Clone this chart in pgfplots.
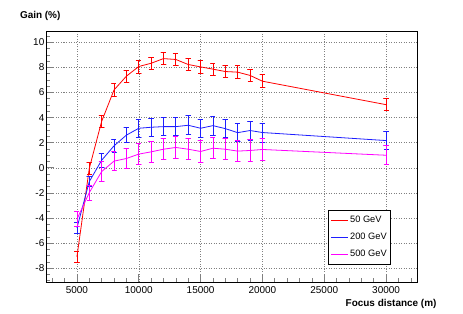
\documentclass[border=0pt]{standalone}
\usepackage{fontspec}
\setmainfont{Liberation Sans}
\usepackage{pgfplots}
\pgfplotsset{compat=1.18}
\definecolor{rred}{RGB}{255,0,0}
\definecolor{rblue}{RGB}{30,30,255}
\definecolor{rmag}{RGB}{255,0,255}
\pgfplotsset{
  rootline/.style={color=#1, mark=none, line width=0.8bp},
  rootbar/.style={color=#1, mark=none, line width=0.8bp, line join=round, forget plot},
}
\begin{document}
\begin{tikzpicture}
\path[use as bounding box] (0bp,0bp) rectangle (463bp,314bp);
\begin{axis}[
  at={(46bp,32bp)}, anchor=south west,
  scale only axis, width=371bp, height=251bp,
  xmin=2500, xmax=32500, ymin=-9.1, ymax=10.9,
  unbounded coords=jump,
  xtick={5000,10000,...,30000},
  minor xtick={3000,4000,...,32000},
  ytick={-8,-6,...,10},
  minor ytick={-9,-8.5,...,10.5},
  tick align=inside, major tick length=8bp, minor tick length=4bp,
  xtick pos=left, ytick pos=left,
  scaled x ticks=false,
  /pgf/number format/assume math mode=true,
  /pgf/number format/1000 sep={},
  tick label style={font=\fontsize{10}{12}\selectfont},
  xticklabel style={inner sep=0pt, yshift=-4bp},
  yticklabel style={inner sep=0pt, xshift=-1.5bp},
  xmajorgrids, ymajorgrids,
  grid style={gray, line width=0.5bp, dash pattern=on 1bp off 1.5bp},
  major tick style={line width=0.6bp},
  minor tick style={line width=0.6bp},
  axis line style={line width=0.9bp},
  xlabel={\bfseries Focus distance (m)},
  ylabel={\bfseries Gain (\%)},
  every axis x label/.style={at={(rel axis cs:1,0)}, anchor=base east, xshift=23bp, yshift=-24bp, font=\fontsize{10}{12}\selectfont},
  every axis y label/.style={at={(rel axis cs:0,1)}, anchor=base west, xshift=-29.5bp, yshift=12bp, font=\fontsize{10}{12}\selectfont},
  legend style={at={(0.760,0.0705)}, anchor=south west, draw=black, line width=0.8bp,
    font=\fontsize{9.3}{11}\selectfont, row sep=5bp, inner xsep=2bp, inner ysep=4bp,
    /tikz/every even column/.append style={column sep=1bp}},
  legend cell align=left,
]
% ---- 50 GeV ----
\addplot[rootline=rred] coordinates {
 (5000,-7.1) (6000,-0.05) (7000,3.7) (8000,6.2) (9000,7.3) (10000,8.07)
 (11000,8.33) (12000,8.7) (13000,8.63) (14000,8.23) (15000,8.04) (16000,7.86)
 (17000,7.67) (18000,7.62) (19000,7.36) (20000,6.9) (30000,5.03)
};
\addlegendentry{50 GeV}
\addplot[rootbar=rred] coordinates {
 (4800,-7.56) (5200,-7.56) (5000,-7.56) (5000,-6.64) (4800,-6.64) (5200,-6.64) (nan,nan)
 (5800,-0.50) (6200,-0.50) (6000,-0.50) (6000,0.40) (5800,0.40) (6200,0.40) (nan,nan)
 (6800,3.21) (7200,3.21) (7000,3.21) (7000,4.19) (6800,4.19) (7200,4.19) (nan,nan)
 (7800,5.70) (8200,5.70) (8000,5.70) (8000,6.70) (7800,6.70) (8200,6.70) (nan,nan)
 (8800,6.80) (9200,6.80) (9000,6.80) (9000,7.80) (8800,7.80) (9200,7.80) (nan,nan)
 (9800,7.55) (10200,7.55) (10000,7.55) (10000,8.59) (9800,8.59) (10200,8.59) (nan,nan)
 (10800,7.83) (11200,7.83) (11000,7.83) (11000,8.83) (10800,8.83) (11200,8.83) (nan,nan)
 (11800,8.24) (12200,8.24) (12000,8.24) (12000,9.16) (11800,9.16) (12200,9.16) (nan,nan)
 (12800,8.15) (13200,8.15) (13000,8.15) (13000,9.11) (12800,9.11) (13200,9.11) (nan,nan)
 (13800,7.73) (14200,7.73) (14000,7.73) (14000,8.73) (13800,8.73) (14200,8.73) (nan,nan)
 (14800,7.54) (15200,7.54) (15000,7.54) (15000,8.54) (14800,8.54) (15200,8.54) (nan,nan)
 (15800,7.38) (16200,7.38) (16000,7.38) (16000,8.34) (15800,8.34) (16200,8.34) (nan,nan)
 (16800,7.19) (17200,7.19) (17000,7.19) (17000,8.15) (16800,8.15) (17200,8.15) (nan,nan)
 (17800,7.12) (18200,7.12) (18000,7.12) (18000,8.12) (17800,8.12) (18200,8.12) (nan,nan)
 (18800,6.86) (19200,6.86) (19000,6.86) (19000,7.86) (18800,7.86) (19200,7.86) (nan,nan)
 (19800,6.38) (20200,6.38) (20000,6.38) (20000,7.42) (19800,7.42) (20200,7.42) (nan,nan)
 (29800,4.54) (30200,4.54) (30000,4.54) (30000,5.52) (29800,5.52) (30200,5.52)
};
% ---- 200 GeV ----
\addplot[rootline=rblue] coordinates {
 (5000,-4.8) (6000,-1.1) (7000,0.6) (8000,1.75) (9000,2.6) (10000,3.15)
 (11000,3.23) (12000,3.28) (13000,3.28) (14000,3.39) (15000,3.15) (16000,3.36)
 (17000,3.12) (18000,2.8) (19000,2.97) (20000,2.81) (30000,2.17)
};
\addlegendentry{200 GeV}
\addplot[rootbar=rblue] coordinates {
 (4800,-5.25) (5200,-5.25) (5000,-5.25) (5000,-4.35) (4800,-4.35) (5200,-4.35) (nan,nan)
 (5800,-1.50) (6200,-1.50) (6000,-1.50) (6000,-0.70) (5800,-0.70) (6200,-0.70) (nan,nan)
 (6800,0.07) (7200,0.07) (7000,0.07) (7000,1.13) (6800,1.13) (7200,1.13) (nan,nan)
 (7800,1.20) (8200,1.20) (8000,1.20) (8000,2.30) (7800,2.30) (8200,2.30) (nan,nan)
 (8800,2.00) (9200,2.00) (9000,2.00) (9000,3.20) (8800,3.20) (9200,3.20) (nan,nan)
 (9800,2.46) (10200,2.46) (10000,2.46) (10000,3.84) (9800,3.84) (10200,3.84) (nan,nan)
 (10800,2.53) (11200,2.53) (11000,2.53) (11000,3.93) (10800,3.93) (11200,3.93) (nan,nan)
 (11800,2.58) (12200,2.58) (12000,2.58) (12000,3.98) (11800,3.98) (12200,3.98) (nan,nan)
 (12800,2.58) (13200,2.58) (13000,2.58) (13000,3.98) (12800,3.98) (13200,3.98) (nan,nan)
 (13800,2.64) (14200,2.64) (14000,2.64) (14000,4.14) (13800,4.14) (14200,4.14) (nan,nan)
 (14800,2.45) (15200,2.45) (15000,2.45) (15000,3.85) (14800,3.85) (15200,3.85) (nan,nan)
 (15800,2.61) (16200,2.61) (16000,2.61) (16000,4.11) (15800,4.11) (16200,4.11) (nan,nan)
 (16800,2.42) (17200,2.42) (17000,2.42) (17000,3.82) (16800,3.82) (17200,3.82) (nan,nan)
 (17800,2.10) (18200,2.10) (18000,2.10) (18000,3.50) (17800,3.50) (18200,3.50) (nan,nan)
 (18800,2.22) (19200,2.22) (19000,2.22) (19000,3.72) (18800,3.72) (19200,3.72) (nan,nan)
 (19800,2.06) (20200,2.06) (20000,2.06) (20000,3.56) (19800,3.56) (20200,3.56) (nan,nan)
 (29800,1.47) (30200,1.47) (30000,1.47) (30000,2.87) (29800,2.87) (30200,2.87)
};
% ---- 500 GeV ----
\addplot[rootline=rmag] coordinates {
 (5000,-4.1) (6000,-1.98) (7000,-0.3) (8000,0.53) (9000,0.74) (10000,1.09)
 (11000,1.27) (12000,1.48) (13000,1.62) (14000,1.48) (15000,1.3) (16000,1.56)
 (17000,1.48) (18000,1.33) (19000,1.38) (20000,1.46) (30000,1.0)
};
\addlegendentry{500 GeV}
\addplot[rootbar=rmag] coordinates {
 (4800,-4.70) (5200,-4.70) (5000,-4.70) (5000,-3.50) (4800,-3.50) (5200,-3.50) (nan,nan)
 (5800,-2.58) (6200,-2.58) (6000,-2.58) (6000,-1.38) (5800,-1.38) (6200,-1.38) (nan,nan)
 (6800,-1.10) (7200,-1.10) (7000,-1.10) (7000,0.50) (6800,0.50) (7200,0.50) (nan,nan)
 (7800,-0.22) (8200,-0.22) (8000,-0.22) (8000,1.28) (7800,1.28) (8200,1.28) (nan,nan)
 (8800,-0.06) (9200,-0.06) (9000,-0.06) (9000,1.54) (8800,1.54) (9200,1.54) (nan,nan)
 (9800,0.24) (10200,0.24) (10000,0.24) (10000,1.94) (9800,1.94) (10200,1.94) (nan,nan)
 (10800,0.42) (11200,0.42) (11000,0.42) (11000,2.12) (10800,2.12) (11200,2.12) (nan,nan)
 (11800,0.63) (12200,0.63) (12000,0.63) (12000,2.33) (11800,2.33) (12200,2.33) (nan,nan)
 (12800,0.77) (13200,0.77) (13000,0.77) (13000,2.47) (12800,2.47) (13200,2.47) (nan,nan)
 (13800,0.63) (14200,0.63) (14000,0.63) (14000,2.33) (13800,2.33) (14200,2.33) (nan,nan)
 (14800,0.45) (15200,0.45) (15000,0.45) (15000,2.15) (14800,2.15) (15200,2.15) (nan,nan)
 (15800,0.71) (16200,0.71) (16000,0.71) (16000,2.41) (15800,2.41) (16200,2.41) (nan,nan)
 (16800,0.63) (17200,0.63) (17000,0.63) (17000,2.33) (16800,2.33) (17200,2.33) (nan,nan)
 (17800,0.48) (18200,0.48) (18000,0.48) (18000,2.18) (17800,2.18) (18200,2.18) (nan,nan)
 (18800,0.53) (19200,0.53) (19000,0.53) (19000,2.23) (18800,2.23) (19200,2.23) (nan,nan)
 (19800,0.61) (20200,0.61) (20000,0.61) (20000,2.31) (19800,2.31) (20200,2.31) (nan,nan)
 (29800,0.25) (30200,0.25) (30000,0.25) (30000,1.75) (29800,1.75) (30200,1.75)
};
\end{axis}
\end{tikzpicture}
\end{document}
